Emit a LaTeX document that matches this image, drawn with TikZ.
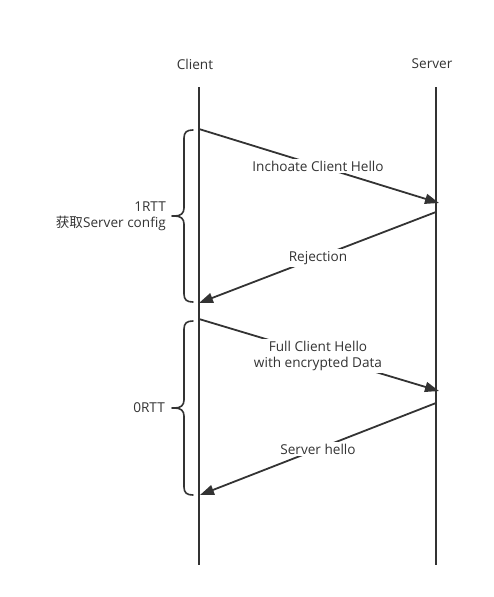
\documentclass[tikz,border=0pt]{standalone}
\usepackage{fontspec}
\setmainfont{Open Sans}
\newfontfamily\cjk{Noto Sans CJK SC}
\usetikzlibrary{arrows.meta}
\definecolor{ink}{HTML}{333333}
\tikzset{
  lifeline/.style={draw=ink, line width=2pt},
  msg/.style={draw=ink, line width=1.8pt, -{Triangle[length=14pt,width=10pt]}},
  lbl/.style={text=ink, font=\fontsize{13.6}{16}\selectfont, inner sep=1pt},
  msglbl/.style={lbl, fill=white, align=center, inner sep=2pt},
  bracestyle/.style={draw=ink, line width=1.6pt, line cap=round}
}
\begin{document}
\begin{tikzpicture}[x=1pt,y=-1pt]
\useasboundingbox (0,0) rectangle (493,597);
% headers
\node[lbl] (client) at (195,64) {Client};
\node[lbl] (server) at (432,64) {Server};
% lifelines
\coordinate (ctop) at (199,87);
\coordinate (cbot) at (199,565);
\coordinate (stop) at (436,87);
\coordinate (sbot) at (436,565);
\draw[lifeline] (ctop) -- (cbot);
\draw[lifeline] (stop) -- (sbot);
% message endpoints
\coordinate (m1a) at (199,129);
\coordinate (m1b) at (439,203);
\coordinate (m2a) at (436,212);
\coordinate (m2b) at (199,303);
\coordinate (m3a) at (199,319);
\coordinate (m3b) at (439,391);
\coordinate (m4a) at (436,403);
\coordinate (m4b) at (200,495);
\draw[msg] (m1a) -- (m1b);
\draw[msg] (m2a) -- (m2b);
\draw[msg] (m3a) -- (m3b);
\draw[msg] (m4a) -- (m4b);
% message labels
\node[msglbl] (l1) at (318,166) {Inchoate Client Hello};
\node[msglbl] (l2) at (318,258) {Rejection};
\node[msglbl] (l3) at (318,356) {Full Client Hello\\with encrypted Data};
\node[msglbl] (l4) at (318,449) {Server hello};
% braces
\draw[bracestyle] (193,130) .. controls (187,130) and (184,132) .. (184,138) -- (184,208)
  .. controls (184,213) and (181,216) .. (175,216) -- (172,216);
\draw[bracestyle] (193,302) .. controls (187,302) and (184,300) .. (184,294) -- (184,224)
  .. controls (184,219) and (181,216) .. (175,216);
\draw[bracestyle] (193,321) .. controls (187,321) and (184,323) .. (184,329) -- (184,400)
  .. controls (184,405) and (181,408) .. (175,408) -- (172,408);
\draw[bracestyle] (193,495) .. controls (187,495) and (184,493) .. (184,487) -- (184,416)
  .. controls (184,411) and (181,408) .. (175,408);
% brace labels
\node[lbl, anchor=east, align=right] (b1) at (167,216) {1RTT\\{\cjk 获取}Server config};
\node[lbl, anchor=east] (b2) at (166,408) {0RTT};
\end{tikzpicture}
\end{document}
